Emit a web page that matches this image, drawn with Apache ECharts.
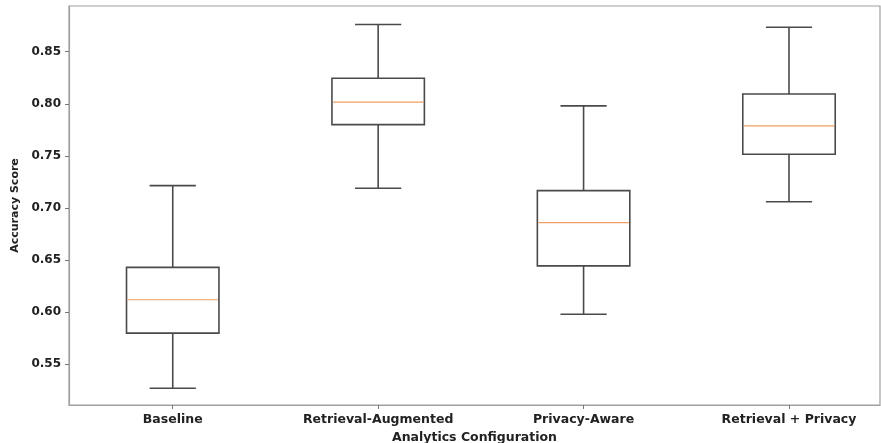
<!DOCTYPE html>
<html>
<head>
<meta charset="utf-8">
<script src="https://cdn.jsdelivr.net/npm/echarts@6/dist/echarts.min.js"></script>
<style>
  html, body { margin: 0; padding: 0; background: #fff; }
  #main { width: 881px; height: 443px; }
</style>
</head>
<body>
<div id="main"></div>
<script>
var categories = ['Baseline', 'Retrieval-Augmented', 'Privacy-Aware', 'Retrieval + Privacy'];
// five-number summaries
var whiskerLow  = [0.527, 0.719, 0.598, 0.706];
var quartile1   = [0.580, 0.780, 0.6445, 0.7516];
var medians     = [0.612, 0.8015, 0.686, 0.7787];
var quartile3   = [0.643, 0.8245, 0.7167, 0.8094];
var whiskerHigh = [0.7215, 0.876, 0.798, 0.8734];
var yTicks = [0.55, 0.60, 0.65, 0.70, 0.75, 0.80, 0.85];

var boxData = categories.map(function (c, i) {
    return [i + 1, whiskerLow[i], quartile1[i], medians[i], quartile3[i], whiskerHigh[i]];
});

var chart = echarts.init(document.getElementById('main'));
var lineCol = '#4a4a4a';
var txt = { fontFamily: 'DejaVu Sans', fontWeight: 'bold', color: '#222' };

chart.setOption({
    animation: false,
    grid: {
        left: 69, top: 6, right: 1, bottom: 38,
        outerBoundsMode: 'none',
        containLabel: false,
        show: true, borderColor: '#a0a0a0', borderWidth: 1.2
    },
    xAxis: {
        type: 'value',
        min: 0.495,
        max: 4.443,
        name: 'Analytics Configuration',
        nameLocation: 'middle',
        nameGap: 25,
        nameTextStyle: Object.assign({ fontSize: 12.5 }, txt),
        axisLine: { show: true, lineStyle: { color: '#a0a0a0', width: 1.2 } },
        axisTick: { show: true, length: 4, customValues: [1, 2, 3, 4], lineStyle: { color: '#777' } },
        axisLabel: Object.assign({
            fontSize: 12.5, margin: 8,
            customValues: [1, 2, 3, 4],
            formatter: function (v) { return categories[Math.round(v) - 1] || ''; }
        }, txt),
        splitLine: { show: false }
    },
    yAxis: {
        type: 'value',
        min: 0.511,
        max: 0.8938,
        name: 'Accuracy Score',
        nameLocation: 'middle',
        nameGap: 48,
        nameTextStyle: Object.assign({ fontSize: 11 }, txt),
        axisLine: { show: true, lineStyle: { color: '#a0a0a0', width: 1.2 } },
        axisTick: { show: true, length: 4, customValues: yTicks, lineStyle: { color: '#777' } },
        axisLabel: Object.assign({
            fontSize: 12, margin: 8,
            customValues: yTicks,
            formatter: function (v) { return v.toFixed(2); }
        }, txt),
        splitLine: { show: false }
    },
    series: [{
        type: 'custom',
        data: boxData,
        renderItem: function (params, api) {
            var x = api.value(0);
            var pLow = api.coord([x, api.value(1)]);
            var pQ1 = api.coord([x, api.value(2)]);
            var pMed = api.coord([x, api.value(3)]);
            var pQ3 = api.coord([x, api.value(4)]);
            var pHigh = api.coord([x, api.value(5)]);
            var halfBox = api.size([0.45, 0])[0] / 2;
            var halfCap = halfBox / 2;
            var cx = pQ1[0];
            var st = { stroke: lineCol, lineWidth: 1.6, fill: null };
            return {
                type: 'group',
                children: [
                    { type: 'line', shape: { x1: cx, y1: pQ3[1], x2: cx, y2: pHigh[1] }, style: st },
                    { type: 'line', shape: { x1: cx, y1: pQ1[1], x2: cx, y2: pLow[1] }, style: st },
                    { type: 'line', shape: { x1: cx - halfCap, y1: pHigh[1], x2: cx + halfCap, y2: pHigh[1] }, style: st },
                    { type: 'line', shape: { x1: cx - halfCap, y1: pLow[1], x2: cx + halfCap, y2: pLow[1] }, style: st },
                    { type: 'rect', shape: { x: cx - halfBox, y: pQ3[1], width: halfBox * 2, height: pQ1[1] - pQ3[1] },
                      style: { stroke: lineCol, lineWidth: 1.6, fill: '#fff' } },
                    { type: 'line', shape: { x1: cx - halfBox + 1, y1: pMed[1], x2: cx + halfBox - 1, y2: pMed[1] },
                      style: { stroke: '#f0a060', lineWidth: 1.2 } }
                ]
            };
        }
    }]
});
</script>
</body>
</html>
